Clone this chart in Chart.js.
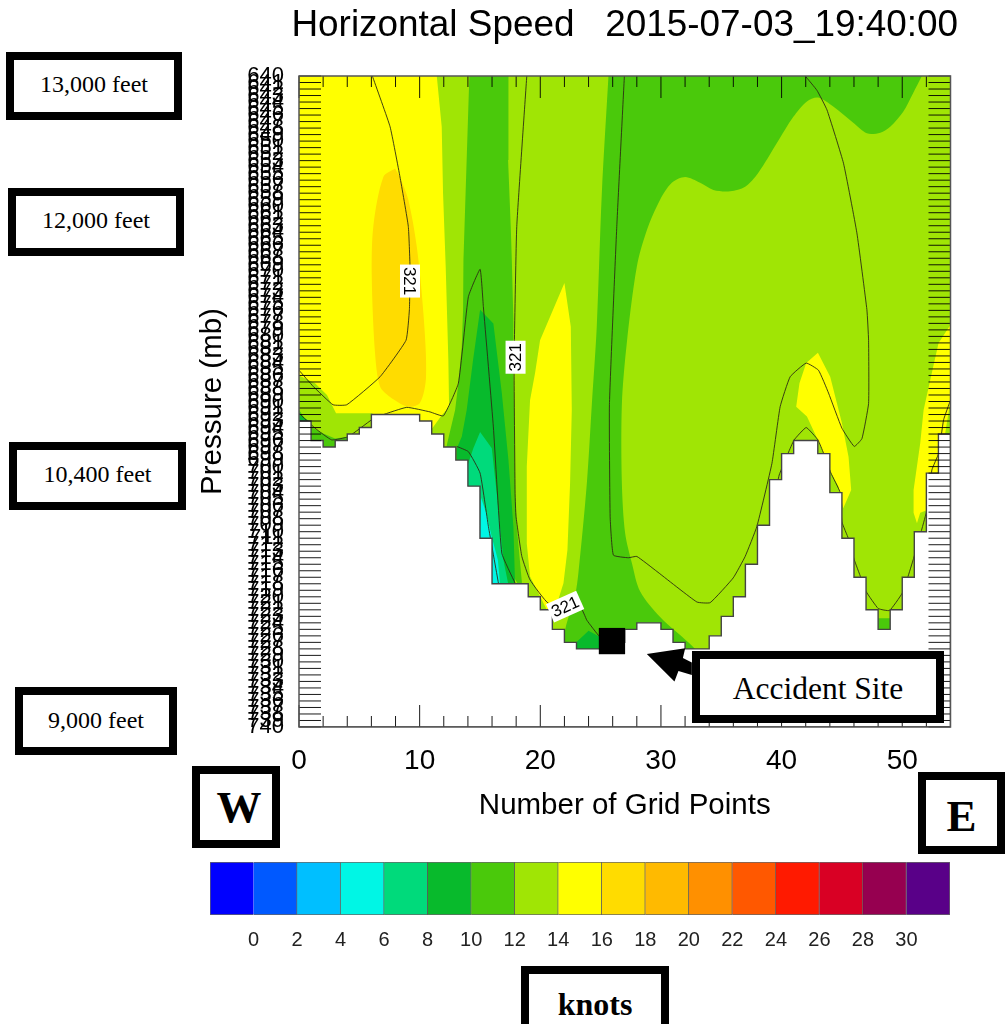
<!DOCTYPE html>
<html>
<head>
<meta charset="utf-8">
<title>Horizontal Speed</title>
<script src="https://cdn.jsdelivr.net/npm/chart.js@4"></script>
<style>
    html, body { margin: 0; padding: 0; background: #fff; width: 1005px; height: 1024px; overflow: hidden; }
    canvas { position: absolute; }
    #main { left: 0; top: 0; }
    #bar { left: 190px; top: 862px; }
    .tag {
        position: absolute; box-sizing: border-box; border: 8px solid #000; background: #fff; color: #000;
        display: flex; align-items: center; justify-content: center;
        font-family: "Liberation Serif", serif; font-size: 24px; white-space: nowrap;
    }
    .tag.big { font-weight: bold; font-size: 45px; }
</style>
</head>
<body>
<canvas id="main" width="1005" height="1024"></canvas>
<canvas id="bar" width="780" height="100"></canvas>

<div class="tag" style="left:6px;top:52px;width:176px;height:68px;padding-bottom:4px">13,000 feet</div>
<div class="tag" style="left:8px;top:188px;width:176px;height:68px;padding-bottom:4px">12,000 feet</div>
<div class="tag" style="left:9px;top:442px;width:177px;height:68px;padding-bottom:4px">10,400 feet</div>
<div class="tag" style="left:15px;top:687px;width:162px;height:68px;padding-bottom:2px">9,000 feet</div>
<div class="tag" style="left:692px;top:651px;width:252px;height:72px;font-size:31.5px;padding-top:4px">Accident Site</div>
<div class="tag big" style="left:192px;top:766px;width:88px;height:82px;padding-left:6px">W</div>
<div class="tag big" style="left:918px;top:772px;width:87px;height:82px;padding-top:6px">E</div>
<div class="tag big" style="left:521px;top:966px;width:148px;height:76px;font-size:32px">knots</div>

<script>
const chartTitle = 'Horizontal Speed   2015-07-03_19:40:00';

// axis ticks
const pressureTicks = [640,641,642,643,644,645,646,647,648,649,650,651,652,653,654,655,656,657,658,659,
    660,661,662,663,664,665,666,667,668,669,670,671,672,673,674,675,676,677,678,679,
    680,681,682,683,684,685,686,687,688,689,690,691,692,693,694,695,696,697,698,699,
    700,701,702,703,704,705,706,707,708,709,710,711,712,713,714,715,716,717,718,719,
    720,721,722,723,724,725,726,727,728,729,730,731,732,733,734,735,736,737,738,739,740];
const gridTicks = [0,2,4,6,8,10,12,14,16,18,20,22,24,26,28,30,32,34,36,38,40,42,44,46,48,50,52,54];

// colour bar
const barEdges = [-2,0,2,4,6,8,10,12,14,16,18,20,22,24,26,28,30,32];
const barColors = ['#0000ff','#0059ff','#00bfff','#00f6e5','#00da7b','#08ba2c','#4ac90b','#a0e505',
    '#ffff00','#ffdc00','#ffba00','#ff9000','#ff5800','#ff1a00','#d90024','#960050','#590088'];

// terrain: grid point where each step starts, pressure of that step
const terrainEdges = [0,1,2,3,4,5,6,10,11,12,13,14,15,16,19,20,21,22,23,26,27,28,30,31,32,34,35,36,37,38,39,40,41,43,44,45,46,47,48,49,50,51,52,53,54];
const terrainLevels = [693,696,697,696,695,694,692,693,695,697,699,703,711,718,720,722,725,727,728,727,725,724,725,727,728,726,723,720,715,709,702,698,696,698,704,711,717,722,725,722,717,710,701,695];

// speed bands, [grid point, pressure]
const plotArea = [[0,640],[54,640],[54,740],[0,740]];
const westYellow = [[0,640],[11.42,640],[11.83,647.8],[11.94,658],[12.16,669.3],[12.38,683.6],[12.44,690.8],[11.83,692.1],[11.05,694.1],[8,694.5],[6.05,691.8],[3.07,691.8],[2.32,689],[1.33,687.2],[0,686]];
const westGold = [[7.96,654.2],[6.99,655.5],[6.16,663.1],[6.03,670.8],[6.3,682.5],[6.72,687.7],[7.55,689.3],[9.04,690.8],[10.03,690.2],[10.53,686.2],[10.31,676.4],[9.76,666.2],[9.06,659],[8.37,655.5]];
const midGreen = [[14.12,640],[13.63,668.3],[13.6,675.9],[13.49,681.6],[13.21,687.2],[12.94,691.3],[12.25,696.7],[12.1,700],[18.47,719],[18.47,717.7],[18.05,709.2],[17.91,704.1],[17.77,683.6],[17.77,677.5],[17.64,668.3],[17.55,663.1],[17.33,652.9],[17.36,640]];
const midDarkGreen = [[15.01,675.9],[16.11,678],[16.81,688.7],[17.36,699],[17.77,709.2],[17.91,718.2],[13.35,719],[13.08,697.2],[13.49,695.4],[13.9,691.3],[14.43,683.6]];
const midTeal = [[15.01,694.7],[15.98,697.2],[16.39,704.1],[16.94,714.3],[17.36,718.2],[14.18,719],[13.9,700.2],[14.45,697.2]];
const midCyan = [[15.09,704.8],[15.56,707.4],[15.98,710.8],[16.48,714.3],[16.67,718.2],[14.84,719]];
const midYellow = [[22,671.8],[22.53,678.5],[22.61,691.3],[22.47,702.5],[22.25,712.8],[21.92,717.9],[21.23,722],[20.54,722],[19.15,716.9],[18.88,711.8],[18.88,700],[19.15,689.8],[19.57,685.6],[19.98,680.6]];
const eastGreen = [[25.65,640],[25.1,658],[24.68,678.5],[24.27,690.5],[23.86,702.5],[23.16,716.3],[22.89,719.7],[22.06,725.1],[22.06,727.4],[24.96,729],[33.08,729],[32.67,727.7],[29.93,723.1],[28.28,719.2],[27.59,714.8],[27.03,710.2],[26.76,702.5],[26.76,690.5],[27.17,681],[28,669.3],[28.83,663.7],[29.93,659],[30.9,656.4],[32.01,655.5],[33.25,656.4],[34.35,657.5],[35.74,657.7],[36.98,657],[38.06,654.9],[39.61,650.3],[40.96,646.3],[42.1,643.9],[43.03,643.3],[44.28,644.7],[45.94,647.2],[47.07,648.8],[48.18,648.7],[49,647.8],[50.08,645.5],[50.91,642.6],[51.63,640]];
const siteDarkGreen = [[23.03,726.9],[24,725.2],[24.88,726.1],[25.8,726.6],[25.8,729],[23.03,729]];
const ridgeYellow = [[43.01,682.5],[44.03,686.2],[45,693.3],[45.55,698.5],[45.77,703.6],[45.11,706.4],[44.72,703.1],[44.09,700.9],[43.2,696.7],[42.1,692.3],[41.21,690.8],[41.48,687.2],[42.04,684.1]];
const edgeYellow = [[54,678.2],[53.01,681],[52.32,686.7],[51.77,691.3],[51.49,696.4],[50.94,703.6],[50.94,707.1],[51.22,708.7],[51.49,707.1],[52.04,706.7],[52.3,702],[53.15,700.5],[53.57,694.8],[54,689.8]];
const westGreen = [[0,691.3],[0.5,692.6],[1.19,694.1],[2.01,694.9],[2.99,695.7],[4.09,695.4],[4.1,698],[0,698]];
const westDarkGreen = [[0,692],[1,693.2],[0,693.2]];
const valleyGreen = [[47.9,723.3],[49.1,723.3],[49.1,726],[47.9,726]];

// 321 contours, [grid point, pressure]
const contourA = [[6.08,640],[7.55,647.8],[8.37,655.5],[9.06,663.1],[9.2,669.3],[9.15,675.9],[8.87,680.6],[6.72,686.2],[3.96,690.5],[2.82,690.5],[1.19,687.7],[0,685.2]];
const contourB = [[0,691.8],[1.33,694.1],[2.71,695.9],[4.09,695.4],[6.03,692.8],[6.86,692.1],[8.93,690.9],[10.86,691.6],[11.97,692.2],[13.21,687.2],[14.04,673.9],[15.01,669.7],[15.28,675.4],[16.11,693.9],[16.81,713.3],[17.91,717.9]];
const contourC = [[18.88,640],[18.05,663.1],[17.85,681],[17.83,686.2],[17.91,704.1],[17.99,707.7],[18.47,713.8],[19.15,717.4],[20.67,721],[23.3,721.5],[23.86,723.6],[24.9,726.1],[25.8,727.4]];
const contourD = [[26.97,640],[26.34,663.1],[25.73,690.5],[25.79,707.7],[26.06,713.6],[27.3,714],[28,713.8],[29.66,716.1],[32.98,720.8],[34.08,720.9],[35.99,717.1],[36.98,713.8],[37.95,709.2],[39.2,699.5],[39.88,690.8],[40.71,686.2],[42.04,684.1],[43.06,685.2],[43.89,688.7],[45,694.1],[46.02,696.9],[46.66,695.7],[47.21,690.3],[47.21,680.6],[47.07,675.9],[46.24,664.1],[45.13,653.4],[43.76,645.2],[42.93,642.2],[41.96,640]];
const contourE = [[39.47,704.4],[39.8,701.3],[40.55,697.9],[41.04,695.9],[42.04,694],[43.01,695.9],[43.47,697.9],[44.09,701],[44.86,704],[45,708.5],[45.55,711.1],[46.02,714.3],[46.58,717.1],[47.01,719.2],[48.01,721.8],[48.95,722.1],[49.98,719.5],[50.44,717.1],[50.94,714.1],[52.04,706.7],[52.46,700.5],[53.01,698],[53.43,692.8],[54,689.8]];
const contourF = [[13.08,696.9],[14.04,697.7],[15.01,701],[15.7,709.2],[16.53,717.9]];

// contour labels: grid point, pressure, rotation in degrees
const contourLabelX = [9.2, 17.95, 22.06];
const contourLabelP = [671.5, 683.2, 721.5];
const contourLabelAngle = [90, -90, -24];

// accident site and its arrow
const siteMark = [[25.94,726.8]];
const siteArrow = [[28.83,728.8],[32.01,727.9],[31.82,729.4],[32.56,730.1],[32.56,732],[31.45,731.4],[31.12,733]];

const LIME = barColors[7], GREEN = barColors[6], DARK = barColors[5], TEAL = barColors[4], CYAN = barColors[3];
const YELLOW = barColors[8], GOLD = barColors[9];
const SANS = '"Liberation Sans", Arial, sans-serif';

const pts = (list) => list.map(([x, y]) => ({ x, y }));

const shape = (list, color, extra) => Object.assign({
    data: pts(list), showLine: true, fill: 'shape', backgroundColor: color,
    borderWidth: 0, pointRadius: 0, tension: 0
}, extra);

const contour = (list) => ({
    data: pts(list), showLine: true, fill: false, borderColor: 'rgba(45,45,20,0.9)',
    borderWidth: 1, pointRadius: 0, tension: 0.12
});

// stairs of the ground, closed along the bottom of the plot
const terrain = [];
terrainLevels.forEach((level, i) => {
    terrain.push([terrainEdges[i], level], [terrainEdges[i + 1], level]);
});
terrain.push([54, 740], [0, 740]);

// listed bottom layer first
const layers = [
    shape(plotArea, LIME),
    shape(westYellow, YELLOW),
    shape(westGold, GOLD, { tension: 0.3 }),
    shape(midGreen, GREEN),
    shape(midDarkGreen, DARK),
    shape(midTeal, TEAL),
    shape(midCyan, CYAN),
    shape(midYellow, YELLOW),
    shape(eastGreen, GREEN, { tension: 0.3 }),
    shape(siteDarkGreen, DARK),
    shape(ridgeYellow, YELLOW),
    shape(edgeYellow, YELLOW),
    shape(westGreen, GREEN),
    shape(westDarkGreen, DARK),
    shape(valleyGreen, GREEN),
    contour(contourA),
    contour(contourB),
    contour(contourC),
    contour(contourD),
    contour(contourE),
    contour(contourF),
    shape(terrain, '#ffffff', { borderWidth: 1.4, borderColor: '#444444' }),
    shape(siteArrow, '#000000'),
    { data: pts(siteMark), pointStyle: 'rect', pointRadius: 18.6, backgroundColor: '#000000', borderWidth: 0, clip: false }
];
// chart draws low order last, so later entries end up on top
layers.forEach((layer, i) => { layer.order = layers.length - i; });

const frameAndTicks = {
    id: 'frameAndTicks',
    afterDatasetsDraw(chart) {
        const { ctx, chartArea: area, scales: { x, y } } = chart;
        ctx.save();

        // the title plugin squeezes text to the plot width, this one is wider than the plot
        ctx.fillStyle = '#000000';
        ctx.font = '36.9px ' + SANS;
        ctx.textAlign = 'center';
        ctx.textBaseline = 'middle';
        ctx.fillText(chartTitle, (area.left + area.right) / 2, 26);

        // ticks point inward on all four sides
        ctx.strokeStyle = 'rgba(0,0,0,0.9)';
        ctx.lineWidth = 1;
        ctx.beginPath();
        pressureTicks.forEach((p) => {
            const py = y.getPixelForValue(p);
            ctx.moveTo(area.left, py);
            ctx.lineTo(area.left + 22, py);
            ctx.moveTo(area.right - 22, py);
            ctx.lineTo(area.right, py);
        });
        gridTicks.forEach((g) => {
            const px = x.getPixelForValue(g);
            const len = g % 10 === 0 ? 22 : 11;
            ctx.moveTo(px, area.top);
            ctx.lineTo(px, area.top + len);
            ctx.moveTo(px, area.bottom - len);
            ctx.lineTo(px, area.bottom);
        });
        ctx.stroke();

        ctx.strokeStyle = '#555555';
        ctx.lineWidth = 1.5;
        ctx.strokeRect(area.left, area.top, area.right - area.left, area.bottom - area.top);

        contourLabelX.forEach((g, i) => {
            ctx.save();
            ctx.translate(x.getPixelForValue(g), y.getPixelForValue(contourLabelP[i]));
            ctx.rotate(contourLabelAngle[i] * Math.PI / 180);
            ctx.fillStyle = '#ffffff';
            ctx.fillRect(-16.5, -10, 33, 20);
            ctx.fillStyle = '#000000';
            ctx.font = '17px ' + SANS;
            ctx.textAlign = 'center';
            ctx.textBaseline = 'middle';
            ctx.fillText('321', 0, 1);
            ctx.restore();
        });
        ctx.restore();
    }
};

new Chart(document.getElementById('main'), {
    type: 'scatter',
    data: { datasets: layers },
    plugins: [frameAndTicks],
    options: {
        responsive: false,
        animation: false,
        events: [],
        layout: { padding: { top: 76, right: 54.5 } },
        plugins: {
            legend: { display: false },
            tooltip: { enabled: false }
        },
        scales: {
            x: {
                type: 'linear',
                min: 0,
                max: 54,
                grid: { display: false },
                border: { display: false },
                afterFit(scale) { scale.height = 297; },
                afterBuildTicks(scale) { scale.ticks = gridTicks.map((value) => ({ value })); },
                ticks: {
                    autoSkip: false,
                    maxRotation: 0,
                    padding: 9,
                    color: '#000',
                    font: { family: SANS, size: 28 },
                    callback: (value) => (value % 10 === 0 ? value : '')
                },
                title: {
                    display: true,
                    text: 'Number of Grid Points',
                    color: '#000',
                    font: { family: SANS, size: 29.5, weight: 'normal', lineHeight: 1 },
                    padding: { top: 0, bottom: 203 }
                }
            },
            y: {
                type: 'linear',
                reverse: true,
                min: 640,
                max: 740,
                grid: { display: false },
                border: { display: false },
                afterFit(scale) { scale.width = 299; },
                afterBuildTicks(scale) { scale.ticks = pressureTicks.map((value) => ({ value })); },
                ticks: {
                    autoSkip: false,
                    padding: 7,
                    color: '#000',
                    font: { family: SANS, size: 22 }
                },
                title: {
                    display: true,
                    text: 'Pressure (mb)',
                    color: '#000',
                    font: { family: SANS, size: 29.5, weight: 'normal', lineHeight: 1 },
                    padding: { top: 198, bottom: 0 }
                }
            }
        }
    }
});

new Chart(document.getElementById('bar'), {
    type: 'bar',
    data: {
        labels: ['knots'],
        datasets: barColors.map((color, i) => ({
            data: [[barEdges[i], barEdges[i + 1]]],
            backgroundColor: color,
            borderColor: 'rgba(0,0,0,0.6)',
            borderWidth: 1,
            barPercentage: 1,
            categoryPercentage: 1,
            grouped: false
        }))
    },
    options: {
        indexAxis: 'y',
        responsive: false,
        animation: false,
        events: [],
        layout: { padding: { left: 20, right: 20 } },
        plugins: { legend: { display: false }, tooltip: { enabled: false } },
        scales: {
            y: { display: false },
            x: {
                type: 'linear',
                min: -2,
                max: 32,
                grid: { display: false },
                border: { display: false },
                afterFit(scale) { scale.height = 47; },
                afterBuildTicks(scale) { scale.ticks = barEdges.map((value) => ({ value })); },
                ticks: {
                    autoSkip: false,
                    maxRotation: 0,
                    padding: 5,
                    color: '#222',
                    font: { family: SANS, size: 20 },
                    callback: (value) => (value < 0 || value > 30 ? '' : value)
                }
            }
        }
    }
});
</script>
</body>
</html>
